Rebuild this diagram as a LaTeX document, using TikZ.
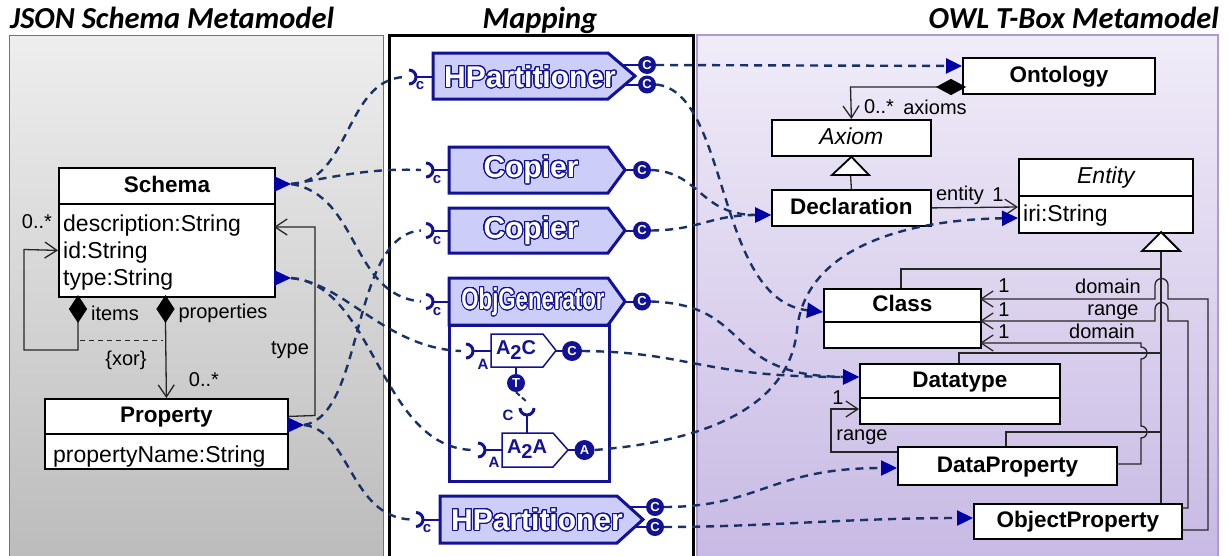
\documentclass[tikz,border=0pt]{standalone}
\usepackage{fontspec}
\setmainfont{Liberation Sans}
\newfontfamily\headfont{Carlito}
\usepackage{contour}
\usetikzlibrary{arrows.meta}

\definecolor{blk}{RGB}{18,18,150}
\definecolor{blkfill}{RGB}{205,205,250}
\definecolor{dashc}{RGB}{24,50,104}
\definecolor{headc}{RGB}{0,0,165}
\definecolor{greyTop}{RGB}{238,238,238}
\definecolor{greyBot}{RGB}{188,188,188}
\definecolor{lavTop}{RGB}{240,236,248}
\definecolor{lavBot}{RGB}{200,186,228}
\definecolor{lavEdge}{RGB}{175,155,210}

\contourlength{1.1pt}
\contournumber{32}

\newcommand{\fs}[1]{\fontsize{#1}{#1}\selectfont}
\newcommand{\outl}[1]{\contour{blk}{\textcolor{white}{#1}}}

\tikzset{
  paneltitle/.style={font=\headfont\bfseries\itshape\fs{30.5}, inner sep=0pt},
  umlhead/.style={draw=black, line width=1.8pt, fill=white, inner sep=0pt,
    font=\bfseries\fs{22.5}, text height=17pt, text depth=4pt, anchor=north west},
  umlbody/.style={draw=black, line width=1.8pt, fill=white, inner sep=0pt, anchor=north west},
  attr/.style={font=\fs{23}, inner sep=0pt, anchor=base west},
  lbl/.style={font=\fs{20}, inner sep=0pt},
  assoc/.style={draw=black!85, line width=1.3pt},
  openhead/.style={-{Straight Barb[length=12pt,width=16pt]}},
  compo/.style={fill=black, draw=black, line width=1pt},
  gen/.style={fill=white, draw=black, line width=1.8pt},
  block/.style={draw=blk, line width=3pt, fill=blkfill, line join=miter},
  innerblock/.style={draw=blk, line width=1.5pt, fill=white},
  blocktext/.style={font=\bfseries\fs{30}, inner sep=0pt},
  innertext/.style={font=\bfseries\fs{20}, text=blk, inner sep=0pt},
  stem/.style={draw=blk, line width=2pt},
  socket/.style={draw=blk, line width=3pt},
  outport/.style={circle, fill=blk, text=white, font=\bfseries\fs{13}, inner sep=0pt, minimum size=18pt},
  portlbl/.style={font=\bfseries\fs{15}, text=blk, inner sep=0pt},
  mapline/.style={draw=dashc, line width=2.4pt, dash pattern=on 8pt off 6pt},
  maparrow/.style={mapline, -{Triangle[length=16pt,width=15pt,color=headc]}},
  srcmark/.style={fill=headc, draw=none},
}

\begin{document}
\begin{tikzpicture}[x=1pt,y=-1pt]
\useasboundingbox (0,0) rectangle (1228,555);

% ---------- panels ----------
\shade[top color=greyTop, bottom color=greyBot] (9,35) rectangle (383,556);
\draw[draw=black!55, line width=1pt] (9,560) -- (9,35) -- (383,35) -- (383,560);
\draw[fill=white, draw=black, line width=3pt] (389,35) rectangle (693,562);
\shade[top color=lavTop, bottom color=lavBot] (697,35) rectangle (1218,556);
\draw[draw=lavEdge, line width=1.5pt] (697,560) -- (697,35) -- (1218,35) -- (1218,560);

\node[paneltitle, anchor=base west] (titleJson) at (10,28) {JSON Schema Metamodel};
\node[paneltitle, anchor=base] (titleMap) at (540,28) {Mapping};
\node[paneltitle, anchor=base east] (titleOwl) at (1219,28) {OWL T-Box Metamodel};

% ---------- JSON Schema metamodel ----------
\node[umlhead, minimum width=216pt, minimum height=36pt] (schema) at (58,167) {Schema};
\node[umlbody, minimum width=216pt, minimum height=93pt] (schemaAttr) at (58,203) {};
\node[attr] (sa1) at (63,231) {description:String};
\node[attr] (sa2) at (63,258) {id:String};
\node[attr] (sa3) at (63,285) {type:String};

\node[umlhead, minimum width=243pt, minimum height=35pt] (property) at (44,398) {Property};
\node[umlbody, minimum width=243pt, minimum height=35pt] (propertyAttr) at (44,433) {};
\node[attr] (pa1) at (53,462) {propertyName:String};

% items (self composition)
\draw[assoc, openhead] (78,322) -- (78,350) -- (24,350) -- (24,249.5) -- (schemaAttr.west);
\draw[compo] (78,296) -- (86.5,309) -- (78,322) -- (69.5,309) -- cycle;
% properties
\draw[assoc, openhead] (165.5,322) -- (property.north);
\draw[compo] (165.5,296) -- (174,309) -- (165.5,322) -- (157,309) -- cycle;
% xor constraint
\draw[black!85, line width=1pt, dash pattern=on 5pt off 4pt] (80,340) -- (163,340);
% type
\draw[assoc, openhead] (property.east) -- (315,415.5) -- (315,227) -- (274,227);

\node[lbl] (lItemsMult) at (37,222) {0..*};
\node[lbl] (lItems) at (115,313) {items};
\node[lbl] (lProps) at (223,313) {properties};
\node[lbl] (lXor) at (126,360) {\{xor\}};
\node[lbl] (lPropMult) at (204,380) {0..*};
\node[lbl] (lType) at (290,350) {type};

% source markers
\draw[srcmark] (274,176) -- (291,184) -- (274,192) -- cycle;
\draw[srcmark] (274,270) -- (291,278) -- (274,286) -- cycle;
\draw[srcmark] (287,417) -- (304,425) -- (287,433) -- cycle;
\coordinate (schemaOut) at (291,184);
\coordinate (typeOut) at (291,278);
\coordinate (propOut) at (304,425);

% ---------- OWL T-Box metamodel ----------
\node[umlhead, minimum width=192pt, minimum height=36pt] (ontology) at (962,57) {Ontology};
\node[umlhead, minimum width=159pt, minimum height=36pt, font=\itshape\fs{23}] (axiom) at (771,119) {Axiom};
\node[umlhead, minimum width=159pt, minimum height=36pt] (declaration) at (771,189) {Declaration};
\node[umlhead, minimum width=174pt, minimum height=37pt, font=\itshape\fs{23}] (entity) at (1018,158) {Entity};
\node[umlbody, minimum width=174pt, minimum height=37pt] (entityAttr) at (1018,195) {};
\node[attr] (ea1) at (1023,221) {iri:String};
\node[umlhead, minimum width=157pt, minimum height=33pt] (class) at (823,288) {Class};
\node[umlbody, minimum width=157pt, minimum height=26pt] (classAttr) at (823,321) {};
\node[umlhead, minimum width=200pt, minimum height=34pt] (datatype) at (859,363) {Datatype};
\node[umlbody, minimum width=200pt, minimum height=26pt] (datatypeAttr) at (859,397) {};
\node[umlhead, minimum width=219pt, minimum height=38pt] (dataProperty) at (897,446) {DataProperty};
\node[umlhead, minimum width=208pt, minimum height=35pt] (objectProperty) at (973,503) {ObjectProperty};

% axioms composition
\draw[assoc, openhead] (937,87) -- (850.5,87) -- (axiom.north);
\draw[compo] (965,87) -- (951,79.5) -- (937,87) -- (951,94.5) -- cycle;
\node[lbl] (lAxMult) at (879,107) {0..*};
\node[lbl] (lAxioms) at (935,107) {axioms};

% Declaration is an Axiom
\draw[assoc] (declaration.north) -- (850.5,175);
\draw[gen] (axiom.south) -- (832,175) -- (869,175) -- cycle;

% entity
\draw[assoc, openhead] (declaration.east) -- (1018,207);
\node[lbl] (lEntity) at (960,195) {entity};
\node[lbl] (lEntMult) at (998,195) {1};

% Entity hierarchy
\draw[assoc] (1161,251) -- (1161,503);
\draw[assoc] (1161,269) -- (901,269) -- (901,288);
\draw[assoc] (1161,353) -- (959,353) -- (959,363);
\draw[assoc] (1161,432) -- (1006,432) -- (1006,446);
\draw[gen] (1161,232) -- (1142,251) -- (1180,251) -- cycle;

% ObjectProperty domain / range, DataProperty domain
\draw[assoc, openhead] (1181,530) -- (1208,530) -- (1208,299) -- (1168,299) -- (1168,285)
  arc[start angle=0, end angle=180, radius=6.5pt] -- (1155,299) -- (980,299);
\draw[assoc, openhead] (1181,508) -- (1188,508) -- (1188,321) -- (1168,321) -- (1168,309)
  arc[start angle=0, end angle=180, radius=6.5pt] -- (1155,321) -- (980,321);
\draw[assoc, openhead] (1116,464) -- (1141,464) -- (1141,438)
  arc[start angle=-90, end angle=90, radius=6pt] -- (1141,359)
  arc[start angle=-90, end angle=90, radius=6pt] -- (1141,343) -- (980,343);
\node[lbl] (lDom1) at (1108,286) {domain};
\node[lbl] (lRng1) at (1113,312) {range};
\node[lbl] (lDom2) at (1102,331) {domain};
\node[lbl] (lM1) at (1004,286) {1};
\node[lbl] (lM2) at (1004,310) {1};
\node[lbl] (lM3) at (1004,332) {1};

% DataProperty range
\draw[assoc, openhead] (897,452) -- (831,452) -- (831,409) -- (859,409);
\node[lbl] (lDpM) at (838,398) {1};
\node[lbl] (lDpRange) at (862,437) {range};

% ---------- mapping ----------
% HPartitioner (top)
\draw[stem] (621,65) -- (640,65);
\draw[stem] (621,84.5) -- (640,84.5);
\draw[block] (433,53) -- (608,53) -- (635,76) -- (608,99) -- (433,99) -- cycle;
\node[blocktext] (hpTop) at (530,77) {\outl{HPartitioner}};
\draw[stem] (416,77) -- (433,77);
\draw[socket] (409,70) arc[start angle=90, end angle=-90, radius=7pt];
\node[portlbl] (hpTopInLbl) at (420,86) {c};
\node[outport] (hpTopC1) at (647,65) {C};
\node[outport] (hpTopC2) at (647,84.5) {C};
\coordinate (hpTopIn) at (404,77);

% Copier 1
\draw[stem] (625,170) -- (634,170);
\draw[block] (449,147) -- (608,147) -- (625,170) -- (608,193) -- (449,193) -- cycle;
\node[blocktext] (copierA) at (531,170) {\outl{Copier}};
\draw[stem] (433,170) -- (449,170);
\draw[socket] (426,163) arc[start angle=90, end angle=-90, radius=7pt];
\node[portlbl] (cpAInLbl) at (437,180) {c};
\node[outport] (cp1C) at (642,170) {C};
\coordinate (cp1In) at (421,170);

% Copier 2
\draw[stem] (625,230.5) -- (634,230.5);
\draw[block] (449,208) -- (608,208) -- (625,230.5) -- (608,253) -- (449,253) -- cycle;
\node[blocktext] (copierB) at (531,231) {\outl{Copier}};
\draw[stem] (433,230.5) -- (449,230.5);
\draw[socket] (426,223.5) arc[start angle=90, end angle=-90, radius=7pt];
\node[portlbl] (cpBInLbl) at (437,241) {c};
\node[outport] (cp2C) at (642,230.5) {C};
\coordinate (cp2In) at (421,230.5);

% ObjGenerator with its inner parts
\draw[stem] (625,301.5) -- (634,301.5);
\draw[draw=blk, line width=3pt, fill=white] (449,325) rectangle (609,481);
\draw[block] (449,278) -- (608,278) -- (625,301.5) -- (608,325) -- (449,325) -- cycle;
\node[blocktext, font=\bfseries\fs{30}] (objGen) at (533,302) {\scalebox{0.74}[1]{\outl{ObjGenerator}}};
\draw[stem] (433,301.5) -- (449,301.5);
\draw[socket] (426,294.5) arc[start angle=90, end angle=-90, radius=7pt];
\node[portlbl] (ogInLbl) at (437,312) {c};
\node[outport] (ogC) at (642,301.5) {C};
\coordinate (ogIn) at (421,301.5);

% A2C
\draw[stem] (556,351) -- (563,351);
\draw[innerblock] (491,334) -- (543,334) -- (556,350.5) -- (543,367) -- (491,367) -- cycle;
\node[innertext] (a2c) at (516,350) {A\raisebox{-5pt}{2}C};
\draw[stem] (473,351) -- (491,351);
\draw[socket] (466,344) arc[start angle=90, end angle=-90, radius=7pt];
\node[portlbl] (a2cInLbl) at (483,364) {A};
\node[outport, minimum size=20pt] (a2cC) at (572,351) {C};
\coordinate (a2cIn) at (461,351);
% T port and its consumer
\draw[stem] (516,367) -- (516,375);
\node[outport] (tPort) at (516,383) {T};
\draw[socket] (520,408) arc[start angle=180, end angle=360, radius=7pt];
\draw[stem] (527,415) -- (527,433);
\node[portlbl] (cupLbl) at (508,415) {C};
\coordinate (cupIn) at (527,402);
\draw[mapline, line width=2pt, dash pattern=on 5pt off 3pt] (tPort.south) -- (cupIn);

% A2A
\draw[stem] (568,450) -- (575,450);
\draw[innerblock] (502,433) -- (553,433) -- (568,450) -- (553,467) -- (502,467) -- cycle;
\node[innertext] (a2a) at (527,449) {A\raisebox{-5pt}{2}A};
\draw[stem] (485,450) -- (502,450);
\draw[socket] (478,443) arc[start angle=90, end angle=-90, radius=7pt];
\node[portlbl] (a2aInLbl) at (494,462) {A};
\node[outport, minimum size=20pt] (a2aA) at (584.5,450) {A};
\coordinate (a2aIn) at (473,450);

% HPartitioner (bottom)
\draw[stem] (629,507) -- (647,507);
\draw[stem] (634,527) -- (647,527);
\draw[block] (440,496) -- (617,496) -- (643,519.5) -- (617,543) -- (440,543) -- cycle;
\node[blocktext] (hpBot) at (537,520) {\outl{HPartitioner}};
\draw[stem] (423,519.5) -- (440,519.5);
\draw[socket] (416,512.5) arc[start angle=90, end angle=-90, radius=7pt];
\node[portlbl] (hpBotInLbl) at (427,529) {c};
\node[outport] (hpBotC1) at (655,507) {C};
\node[outport] (hpBotC2) at (655,527) {C};
\coordinate (hpBotIn) at (411,519.5);

% ---------- mapping connectors ----------
\draw[mapline] (schemaOut) .. controls (350,182) and (345,80) .. (hpTopIn);
\draw[mapline] (schemaOut) .. controls (340,176) and (370,168) .. (cp1In);
\draw[mapline] (schemaOut) .. controls (360,195) and (350,295) .. (ogIn);
\draw[mapline] (typeOut) .. controls (345,283) and (385,348) .. (a2cIn);
\draw[mapline] (typeOut) .. controls (375,285) and (380,448) .. (a2aIn);
\draw[mapline] (propOut) .. controls (365,415) and (350,235) .. (cp2In);
\draw[mapline] (propOut) .. controls (350,430) and (350,517) .. (hpBotIn);

\coordinate (ontoIn) at (962,66);
\coordinate (classIn) at (823,312);
\coordinate (declIn) at (771,215);
\coordinate (dtIn) at (859,377);
\coordinate (entityIn) at (1018,218);
\coordinate (dpIn) at (897,468);
\coordinate (opIn) at (973,518);

\draw[maparrow] (hpTopC1.east) -- (ontoIn);
\draw[maparrow] (hpTopC2.east) .. controls (730,92) and (715,300) .. (classIn);
\draw[maparrow] (cp1C.east) .. controls (700,172) and (700,215) .. (declIn);
\draw[maparrow] (cp2C.east) .. controls (700,230) and (710,215) .. (declIn);
\draw[maparrow] (ogC.east) .. controls (755,305) and (720,376) .. (dtIn);
\draw[maparrow] (a2cC.east) .. controls (690,352) and (700,377) .. (dtIn);
\draw[maparrow] (a2aA.east) .. controls (720,440) and (790,400) .. (797,330)
  .. controls (805,250) and (900,220) .. (entityIn);
\draw[maparrow] (hpBotC1.east) .. controls (760,507) and (770,468) .. (dpIn);
\draw[maparrow] (hpBotC2.east) .. controls (760,527) and (850,518) .. (opIn);
\end{tikzpicture}
\end{document}
